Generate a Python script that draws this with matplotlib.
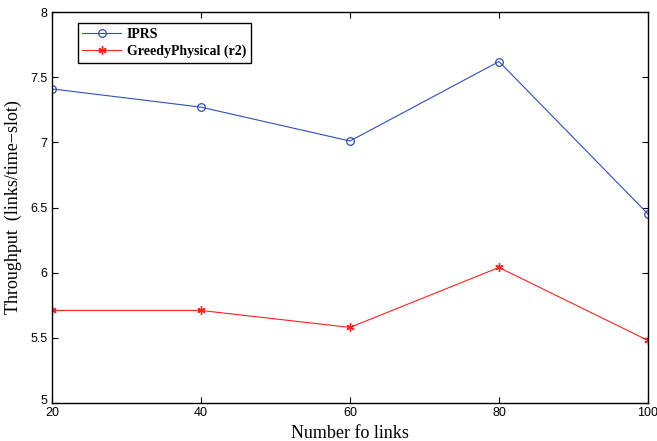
import matplotlib
matplotlib.use("Agg")
import matplotlib.pyplot as plt
import matplotlib.transforms as mtransforms

links = [20, 40, 60, 80, 100]
iprs = [7.41, 7.27, 7.01, 7.62, 6.45]
greedy = [5.71, 5.71, 5.58, 6.04, 5.48]
xticks = [20, 40, 60, 80, 100]
yticks = [5, 5.5, 6, 6.5, 7, 7.5, 8]

fig = plt.figure(figsize=(6.57, 4.41), dpi=100)
ax = fig.add_axes([52/657, 38/441, 596/657, 391/441])

ax.plot(links, iprs, color='#2f4fb5', lw=0.8, marker='o', mfc='none', mec='#2f4fb5',
        ms=5.5, mew=0.9, label='IPRS')
ax.plot(links, greedy, color='#ff2020', lw=0.8, marker=(6, 2, 0), mfc='#ff2020', mec='#ff2020',
        ms=6, mew=1.0, label='GreedyPhysical (r2)')

ax.set_xlim(20, 100)
ax.set_ylim(5, 8)
ax.set_xticks(xticks)
ax.set_yticks(yticks)
ax.set_xticklabels([str(v) for v in xticks], family='Liberation Sans', fontsize=9)
ax.set_yticklabels([f'{v:g}' for v in yticks], family='Liberation Sans', fontsize=9)
ax.tick_params(direction='in', top=True, right=True, length=4, width=0.8, pad=3)
for s in ax.spines.values():
    s.set_linewidth(1.0)

# nudge the lowest y label slightly up, as in the reference, so it clears "20"
lab0 = ax.get_yticklabels()[0]
lab0.set_transform(lab0.get_transform() + mtransforms.ScaledTranslation(0, 4/100, fig.dpi_scale_trans))

ax.set_xlabel('Number fo links', family='Liberation Serif', fontsize=13, labelpad=4)
ax.set_ylabel('Throughput  (links/time\u2212slot)', family='Liberation Serif', fontsize=13, labelpad=6)

leg = ax.legend(loc='upper left', bbox_to_anchor=(0.043, 0.972), frameon=True, fancybox=False,
                edgecolor='black', framealpha=1, borderaxespad=0,
                prop={'family': 'Liberation Serif', 'weight': 'bold', 'size': 10},
                handlelength=2.8, handletextpad=0.4, borderpad=0.35, labelspacing=0.3)
leg.get_frame().set_linewidth(1.0)

fig.savefig('out.png', dpi=100)
